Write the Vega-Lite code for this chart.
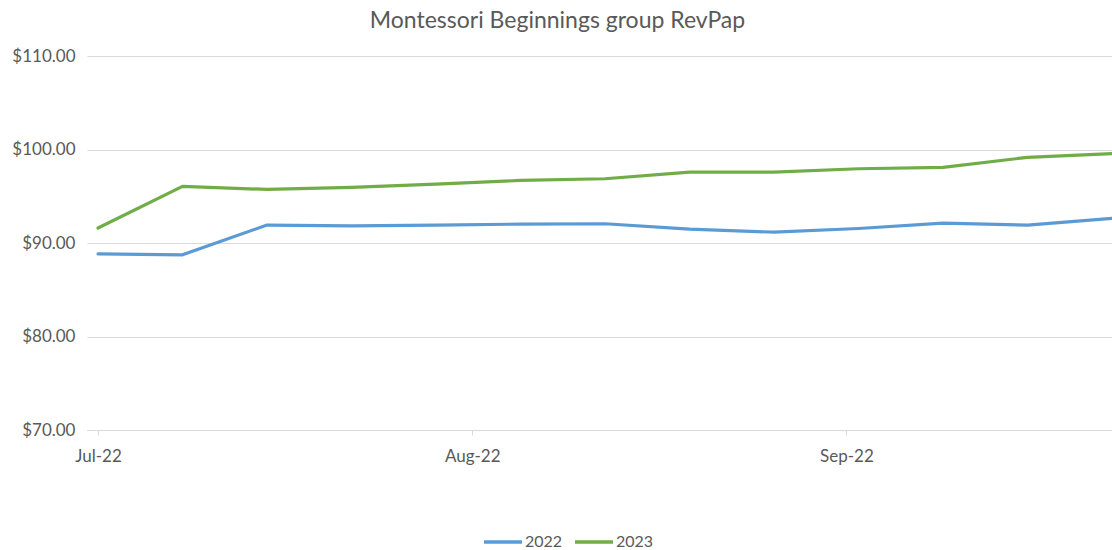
{
  "$schema": "https://vega.github.io/schema/vega-lite/v6.json",
  "width": 1025,
  "height": 374,
  "autosize": {"type": "none"},
  "padding": {"left": 87, "top": 56, "right": 0, "bottom": 120},
  "background": "white",
  "title": {
    "text": "Montessori Beginnings group RevPap",
    "font": "Lato",
    "fontSize": 23,
    "fontWeight": "normal",
    "color": "#595959",
    "anchor": "middle",
    "dx": -42,
    "offset": 14
  },
  "data": {
    "values": [
      {"date": "2022-07-01", "series": "2022", "value": 88.84},
      {"date": "2022-07-08", "series": "2022", "value": 88.74},
      {"date": "2022-07-15", "series": "2022", "value": 91.92},
      {"date": "2022-07-22", "series": "2022", "value": 91.84},
      {"date": "2022-07-29", "series": "2022", "value": 91.92},
      {"date": "2022-08-05", "series": "2022", "value": 92.02},
      {"date": "2022-08-12", "series": "2022", "value": 92.06},
      {"date": "2022-08-19", "series": "2022", "value": 91.48},
      {"date": "2022-08-26", "series": "2022", "value": 91.16},
      {"date": "2022-09-02", "series": "2022", "value": 91.55},
      {"date": "2022-09-09", "series": "2022", "value": 92.12},
      {"date": "2022-09-16", "series": "2022", "value": 91.92},
      {"date": "2022-09-23", "series": "2022", "value": 92.63},
      {"date": "2022-07-01", "series": "2023", "value": 91.6},
      {"date": "2022-07-08", "series": "2023", "value": 96.05},
      {"date": "2022-07-15", "series": "2023", "value": 95.73},
      {"date": "2022-07-22", "series": "2023", "value": 95.94},
      {"date": "2022-07-29", "series": "2023", "value": 96.3},
      {"date": "2022-08-05", "series": "2023", "value": 96.69},
      {"date": "2022-08-12", "series": "2023", "value": 96.87},
      {"date": "2022-08-19", "series": "2023", "value": 97.59},
      {"date": "2022-08-26", "series": "2023", "value": 97.59},
      {"date": "2022-09-02", "series": "2023", "value": 97.94},
      {"date": "2022-09-09", "series": "2023", "value": 98.08},
      {"date": "2022-09-16", "series": "2023", "value": 99.16},
      {"date": "2022-09-23", "series": "2023", "value": 99.55}
    ]
  },
  "mark": {"type": "line", "strokeWidth": 3.2, "strokeCap": "round", "strokeJoin": "round", "clip": false},
  "encoding": {
    "x": {
      "field": "date",
      "type": "temporal",
      "title": null,
      "scale": {
        "type": "utc",
        "domain": [
          {"utc": true, "year": 2022, "month": 6, "date": 30, "hours": 2, "minutes": 7},
          {"utc": true, "year": 2022, "month": 9, "date": 23}
        ]
      },
      "axis": {
        "values": [
          {"utc": true, "year": 2022, "month": 7, "date": 1},
          {"utc": true, "year": 2022, "month": 8, "date": 1},
          {"utc": true, "year": 2022, "month": 9, "date": 1}
        ],
        "labelExpr": "utcFormat(datum.value, '%b-%y')",
        "grid": false,
        "domainColor": "#D9D9D9",
        "domainWidth": 1,
        "tickColor": "#D9D9D9",
        "tickSize": 5,
        "labelPadding": 13,
        "labelFont": "Lato",
        "labelFontSize": 17,
        "labelColor": "#595959",
        "labelFlush": false
      }
    },
    "y": {
      "field": "value",
      "type": "quantitative",
      "title": null,
      "scale": {"domain": [70, 110], "nice": false, "zero": false},
      "axis": {
        "values": [70, 80, 90, 100, 110],
        "format": "$.2f",
        "domain": false,
        "ticks": false,
        "gridColor": "#D9D9D9",
        "gridWidth": 1,
        "labelPadding": 12,
        "labelFont": "Lato",
        "labelFontSize": 17,
        "labelColor": "#595959"
      }
    },
    "color": {
      "field": "series",
      "type": "nominal",
      "title": null,
      "scale": {"domain": ["2022", "2023"], "range": ["#5B9BD5", "#70AD47"]},
      "legend": {
        "orient": "none",
        "legendX": 404,
        "legendY": 474,
        "direction": "horizontal",
        "symbolType": "M-1.9,0H1.9",
        "symbolSize": 400,
        "symbolStrokeWidth": 3.5,
        "symbolFillColor": "transparent",
        "labelFont": "Lato",
        "labelFontSize": 16,
        "labelColor": "#595959",
        "labelOffset": 10,
        "columnPadding": 5
      }
    }
  },
  "config": {"view": {"stroke": null}}
}
